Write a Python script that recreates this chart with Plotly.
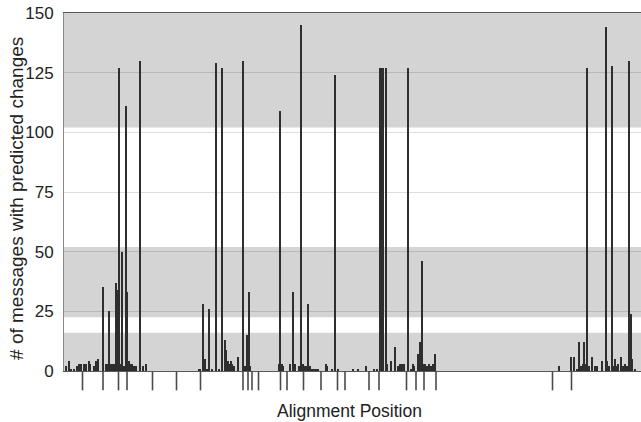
import plotly.graph_objects as go

# Alignment positions and counts of messages with predicted changes
positions = [5, 10, 14, 20, 26, 30, 35, 41, 45, 50, 53, 60, 65, 68, 79, 84, 88, 91, 95, 98,
             103, 104, 106, 110, 113, 117, 120, 125, 127, 131, 134, 137, 140, 144, 152, 158, 165,
             271, 273, 279, 282, 286, 291, 296, 305, 310, 316, 323, 325, 329, 332, 335, 337, 340,
             349, 359, 363, 366, 368, 371, 373,
             430, 433, 436, 439, 453, 459, 463, 471, 475, 479, 482, 487, 489, 493, 497, 501, 505,
             508, 525, 527, 537, 542, 549, 579, 589, 605, 620, 627,
             633, 636, 638, 644, 647, 655, 663, 669, 673, 677, 681, 688, 695, 699, 701, 708, 713,
             716, 719, 723, 727, 731, 735, 738, 742,
             991, 1015, 1021, 1027, 1030, 1035, 1038, 1041, 1043, 1046, 1050, 1057, 1062, 1067,
             1077, 1084, 1087, 1091, 1096, 1099, 1102, 1106, 1109, 1115, 1119, 1123, 1126, 1130,
             1134, 1137, 1142]
counts = [2, 4, 1, 1, 2, 3, 3, 3, 3, 4, 3, 2, 4, 5, 35, 3, 3, 25, 3, 3,
          3, 37, 34, 127, 3, 50, 2, 111, 33, 4, 3, 3, 2, 2, 130, 2, 3,
          1, 1, 28, 5, 1, 26, 1, 129, 1, 127, 13, 9, 4, 3, 4, 3, 2,
          6, 130, 2, 15, 3, 33, 2,
          3, 109, 3, 2, 3, 33, 3, 2, 145, 3, 2, 2, 28, 2, 1, 1, 1,
          1, 3, 2, 1, 124, 1, 1, 1, 2, 1, 1,
          127, 127, 127, 127, 3, 4, 10, 2, 3, 3, 3, 127, 1, 3, 2, 7, 12,
          46, 3, 3, 2, 3, 2, 3, 7,
          2, 6, 6, 1, 12, 2, 3, 12, 3, 127, 2, 6, 2, 2,
          4, 144, 4, 2, 128, 2, 5, 2, 3, 6, 2, 3, 2, 130,
          24, 5, 1]

# Positions marked below the axis
marked_positions = [37, 78, 109, 126, 177, 225, 273, 358, 368, 376, 389, 433, 446, 479,
                    514, 547, 562, 610, 630, 685, 704, 720, 744, 977, 1015]

# Shaded y-ranges
bands = [(0, 16), (22.5, 52), (102, 150)]

y_ticks = [0, 25, 50, 75, 100, 125, 150]
x_max = 1154

fig = go.Figure()

fig.add_trace(go.Bar(
    x=positions, y=counts, width=3.2,
    marker=dict(color="#2e2e2e", line=dict(width=0)),
    showlegend=False, xaxis="x", yaxis="y",
))

# rug marks drawn in a thin strip axis below the main plot
rug_x, rug_y = [], []
for p in marked_positions:
    rug_x += [p, p, None]
    rug_y += [0.08, 1.0, None]
fig.add_trace(go.Scatter(
    x=rug_x, y=rug_y, mode="lines",
    line=dict(width=1.6, color="#4a4a4a"),
    showlegend=False, xaxis="x", yaxis="y2",
))

for lo, hi in bands:
    fig.add_shape(type="rect", xref="paper", yref="y", x0=0, x1=1, y0=lo, y1=hi,
                  fillcolor="#d4d4d4", line=dict(width=0), layer="below")

font_family = "Arial, Liberation Sans, Helvetica, sans-serif"
split = 0.0554

fig.update_layout(
    width=641, height=422,
    margin=dict(l=64, r=0, t=13, b=30),
    paper_bgcolor="white", plot_bgcolor="rgba(0,0,0,0)",
    font=dict(family=font_family, color="#222222"),
    bargap=0,
    xaxis=dict(range=[0, x_max], showticklabels=False, ticks="", showgrid=False,
               zeroline=False, showline=True, linecolor="#5a5a5a", linewidth=1, mirror=True,
               anchor="y"),
    yaxis=dict(domain=[split, 1], range=[0, 150], tickvals=y_ticks, ticks="outside", ticklen=6,
               tickcolor="rgba(0,0,0,0)", tickfont=dict(size=17, color="#222222"),
               showgrid=True, gridcolor="rgba(0,0,0,0.13)", gridwidth=1,
               zeroline=False, showline=True, linecolor="#8a8a8a", linewidth=1, mirror=True),
    yaxis2=dict(domain=[0, split], range=[0, 1], visible=False, showgrid=False,
                zeroline=False, anchor="x"),
    annotations=[
        dict(text="# of messages with predicted changes", xref="paper", yref="paper",
             x=-0.0815, y=0.512, textangle=-90, showarrow=False,
             xanchor="center", yanchor="middle", font=dict(size=19, color="#222222")),
        dict(text="Alignment Position", xref="paper", yref="paper",
             x=0.495, y=-0.05, showarrow=False, xanchor="center", yanchor="middle",
             font=dict(size=17.5, color="#222222")),
    ],
)

fig.write_html("out.html", config={"displayModeBar": False},
               post_script="document.body.style.margin='0';document.body.style.overflow='hidden';")
